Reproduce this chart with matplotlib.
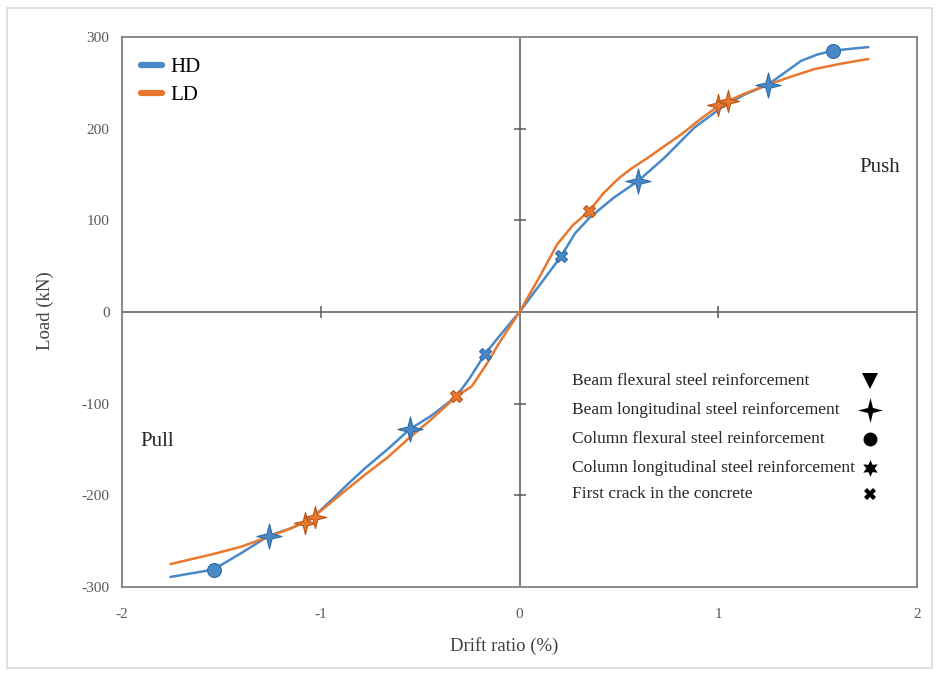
import matplotlib
matplotlib.use("Agg")
import matplotlib.pyplot as plt
from matplotlib.path import Path
from matplotlib.patches import Rectangle

plt.rcParams['font.family'] = ['Liberation Serif', 'DejaVu Serif']

# ---------------- data ----------------
hd_x = [-1.756, -1.54, -1.40, -1.26, -1.15, -1.05, -0.95, -0.86, -0.78, -0.66, -0.553, -0.443, -0.317,
        -0.25, -0.174, -0.10, 0.0,
        0.10, 0.21, 0.28, 0.353, 0.476, 0.597, 0.728, 0.879, 1.016, 1.13, 1.25, 1.34, 1.417, 1.50,
        1.576, 1.66, 1.755]
hd_y = [-289, -281, -263, -244, -236, -226, -206, -187, -171, -149, -128, -113, -92,
        -72, -46, -26, 0,
        29, 61, 86, 103, 125, 143, 168, 201, 223, 237, 248, 262, 274, 281,
        285, 287, 289]

ld_x = [-1.756, -1.54, -1.40, -1.26, -1.15, -1.05, -0.95, -0.86, -0.78, -0.66, -0.553, -0.443, -0.317,
        -0.24, -0.166, -0.10, 0.0,
        0.10, 0.19, 0.27, 0.35, 0.42, 0.50, 0.56, 0.644, 0.815, 0.92, 1.016, 1.13, 1.25, 1.37, 1.484,
        1.62, 1.755]
ld_y = [-275, -264, -256, -245, -236, -226, -208, -192, -178, -158, -137, -117, -92,
        -81, -57, -33, 0,
        38, 74, 95, 110, 129, 146, 156, 168, 194, 212, 227, 238, 248, 257, 265,
        271, 276]

# damage markers: (x, y)
hd_crack = ([0.21, -0.174], [61, -46])
hd_beam_long = ([0.597, 1.25, -0.553, -1.26], [143, 248, -128, -244])
hd_col_flex = ([1.576, -1.538], [285, -281])

ld_crack = ([0.35, -0.317], [110, -92])
ld_beam_long = ([1.00, -1.08], [226, -230])
ld_col_long = ([1.05, -1.03], [230, -224])

series_names = ["HD", "LD"]
legend_labels = ["Beam flexural steel reinforcement",
                 "Beam longitudinal steel reinforcement",
                 "Column flexural steel reinforcement",
                 "Column longitudinal steel reinforcement",
                 "First crack in the concrete"]
x_ticks = [-2, -1, 0, 1, 2]
y_ticks = [-300, -200, -100, 0, 100, 200, 300]

# ---------------- styles ----------------
BLUE = '#4A89C8'
BLUE_E = '#2F6AA6'
ORANGE = '#E8782E'
ORANGE_E = '#B8561A'
AX_C = '#595959'

sparkle = Path([(0, 1), (0.2, 0.2), (1, 0), (0.2, -0.2), (0, -1), (-0.2, -0.2),
                (-1, 0), (-0.2, 0.2), (0, 1)], closed=True)

fig = plt.figure(figsize=(9.36, 6.76), dpi=100)
fig.patches.append(Rectangle((7 / 936, 8 / 676), 925 / 936, 660 / 676, transform=fig.transFigure,
                             fill=False, edgecolor='#d9d9d9', linewidth=1.2))
ax = fig.add_axes([122 / 936, 89 / 676, 795 / 936, 550 / 676])

ax.set_xlim(-2, 2)
ax.set_ylim(-300, 300)
for s in ax.spines.values():
    s.set_color('#7f7f7f')
    s.set_linewidth(1.3)

ax.set_xticks(x_ticks)
ax.set_yticks(y_ticks)
ax.set_xticklabels([f"{t}" for t in x_ticks])
ax.set_yticklabels([f"{t}" for t in y_ticks])
ax.tick_params(axis='both', length=0, labelsize=11, labelcolor='#595959')
ax.tick_params(axis='x', pad=15)
ax.tick_params(axis='y', pad=9)

# inner crossing axes
ax.axhline(0, color=AX_C, lw=1.1, zorder=1)
ax.axvline(0, color=AX_C, lw=1.1, zorder=1)
xt = [t for t in x_ticks if t not in (0, -2, 2)]
yt = [t for t in y_ticks if t not in (0, -300, 300)]
ax.plot(xt, [0] * len(xt), ls='none', marker='|', ms=8, mew=1.1, color=AX_C, zorder=1)
ax.plot([0] * len(yt), yt, ls='none', marker='_', ms=8, mew=1.1, color=AX_C, zorder=1)

# curves
ax.plot(hd_x, hd_y, color=BLUE, lw=1.8, label=series_names[0], zorder=3,
        solid_joinstyle='round', solid_capstyle='round')
ax.plot(ld_x, ld_y, color=ORANGE, lw=1.8, label=series_names[1], zorder=3,
        solid_joinstyle='round', solid_capstyle='round')

# markers
ax.plot(*hd_crack, ls='none', marker='X', ms=8, color=BLUE, mec=BLUE_E, mew=0.8, zorder=4)
ax.plot(*hd_beam_long, ls='none', marker=sparkle, ms=18, color=BLUE, mec=BLUE_E, mew=0.8, zorder=4)
ax.plot(*hd_col_flex, ls='none', marker='o', ms=10, color=BLUE, mec=BLUE_E, mew=0.8, zorder=4)
ax.plot(*ld_crack, ls='none', marker='X', ms=8, color=ORANGE, mec=ORANGE_E, mew=0.8, zorder=4)
ax.plot(*ld_beam_long, ls='none', marker=sparkle, ms=16, color=ORANGE, mec=ORANGE_E, mew=0.8, zorder=4)
ax.plot(*ld_col_long, ls='none', marker=sparkle, ms=16, color=ORANGE, mec=ORANGE_E, mew=0.8, zorder=4)

# series legend
leg = ax.legend(loc='upper left', bbox_to_anchor=(0.0, 0.997), frameon=False, fontsize=15,
                handlelength=1.0, handletextpad=0.4, labelspacing=0.42, borderaxespad=0.5)
for h in leg.get_lines():
    h.set_linewidth(4.5)

# damage legend (manual)
rows_y = [0.3745, 0.3218, 0.269, 0.2164, 0.169]
mk = [dict(marker='v', ms=11), dict(marker=sparkle, ms=18), dict(marker='o', ms=10),
      dict(marker=(6, 1, 0), ms=12), dict(marker='X', ms=8)]
for lab, yy, m in zip(legend_labels, rows_y, mk):
    ax.text(0.566, yy, lab, transform=ax.transAxes, fontsize=12.5, color='#262626',
            ha='left', va='center')
    ax.plot([0.941], [yy], transform=ax.transAxes, ls='none', color='black', mew=0, **m)

ax.text(0.953, 0.762, "Push", transform=ax.transAxes, fontsize=15, ha='center', va='center',
        color='#262626')
ax.text(0.044, 0.265, "Pull", transform=ax.transAxes, fontsize=15, ha='center', va='center',
        color='#262626')

fig.text(504 / 936, 1 - 646 / 676, "Drift ratio (%)", fontsize=13.5, ha='center', va='center',
         color='#404040')
fig.text(45 / 936, 1 - 311 / 676, "Load (kN)", fontsize=13.5, ha='center', va='center',
         rotation=90, color='#404040')

fig.savefig('out.png', dpi=100)
